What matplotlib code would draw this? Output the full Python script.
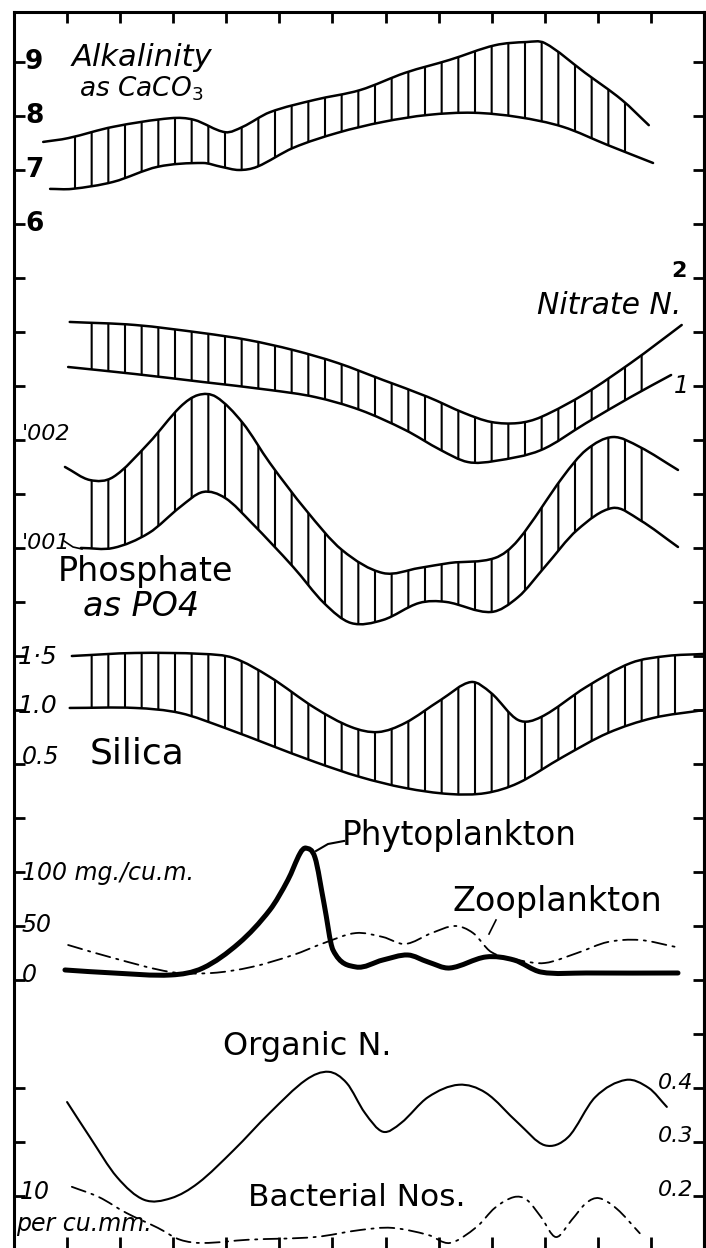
import numpy as np
import matplotlib
matplotlib.use("Agg")
import matplotlib.pyplot as plt
from matplotlib.path import Path
from matplotlib.patches import PathPatch, Rectangle

# ---------------- data ----------------
months_ticks = list(range(1, 13))

alk_top_x = [0.55, 1.02, 1.87, 2.96, 3.39, 3.98, 4.31, 4.82, 5.67, 6.52, 7.37, 8.21, 9.06, 9.66, 10.00, 10.76, 11.45, 11.96]
alk_top_y = [7.52, 7.59, 7.80, 7.96, 7.93, 7.70, 7.80, 8.07, 8.30, 8.48, 8.80, 9.04, 9.31, 9.37, 9.35, 8.80, 8.30, 7.83]
alk_bot_x = [0.68, 1.09, 1.87, 2.71, 3.56, 3.90, 4.24, 4.58, 5.26, 6.10, 6.95, 7.80, 8.65, 9.50, 10.34, 11.19, 12.04]
alk_bot_y = [6.65, 6.65, 6.78, 7.06, 7.13, 7.06, 7.00, 7.06, 7.41, 7.69, 7.89, 8.02, 8.06, 7.98, 7.80, 7.46, 7.13]

nit_top_x = [1.05, 2.28, 3.56, 4.41, 5.26, 6.10, 6.95, 7.80, 8.48, 8.99, 9.50, 9.93, 10.78, 11.62, 12.13, 12.58]
nit_top_y = [1.593, 1.565, 1.49, 1.426, 1.333, 1.213, 1.056, 0.898, 0.75, 0.667, 0.657, 0.713, 0.935, 1.213, 1.398, 1.565]
nit_bot_x = [1.02, 2.28, 3.56, 4.82, 5.67, 6.52, 7.37, 8.04, 8.55, 9.06, 9.93, 10.78, 11.62, 12.38]
nit_bot_y = [1.176, 1.111, 1.037, 0.963, 0.898, 0.778, 0.593, 0.407, 0.296, 0.306, 0.407, 0.657, 0.898, 1.102]

# phosphate in units of 0.001
pho_top_x = [0.96, 1.43, 1.87, 2.54, 3.13, 3.47, 3.81, 4.31, 4.82, 5.50, 6.18, 6.95, 7.63, 8.21, 9.06, 9.50, 10.34, 10.78, 11.28, 11.79, 12.51]
pho_top_y = [1.769, 1.648, 1.676, 1.991, 2.324, 2.435, 2.417, 2.176, 1.806, 1.37, 1.0, 0.787, 0.833, 0.88, 0.926, 1.093, 1.676, 1.926, 2.046, 1.954, 1.741]
pho_bot_x = [1.26, 1.87, 2.54, 3.13, 3.56, 3.98, 4.48, 5.26, 5.84, 6.35, 6.95, 7.63, 8.14, 8.99, 9.50, 10.00, 10.61, 11.28, 11.79, 12.51]
pho_bot_y = [1.019, 1.019, 1.157, 1.398, 1.537, 1.481, 1.25, 0.843, 0.509, 0.324, 0.352, 0.509, 0.519, 0.426, 0.565, 0.843, 1.185, 1.389, 1.278, 1.028]

sil_top_x = [1.09, 2.28, 3.56, 4.14, 4.82, 5.67, 6.35, 6.86, 7.37, 8.04, 8.61, 8.99, 9.50, 9.93, 10.78, 11.62, 12.30, 13.0]
sil_top_y = [1.5, 1.528, 1.519, 1.481, 1.306, 1.019, 0.843, 0.796, 0.880, 1.093, 1.259, 1.157, 0.907, 0.935, 1.213, 1.435, 1.5, 1.519]
sil_bot_x = [1.05, 2.28, 3.13, 3.98, 4.82, 5.67, 6.52, 7.37, 8.21, 8.89, 9.50, 10.34, 11.19, 12.04, 13.0]
sil_bot_y = [1.019, 1.019, 0.972, 0.833, 0.676, 0.519, 0.380, 0.278, 0.222, 0.231, 0.324, 0.565, 0.787, 0.926, 1.0]

phy_x = [0.96, 1.87, 2.96, 3.56, 4.24, 4.82, 5.16, 5.39, 5.50, 5.67, 5.84, 6.01, 6.44, 6.95, 7.42, 7.80, 8.21, 8.89, 9.42, 9.93, 10.78, 12.51]
phy_y = [5.8, 2.9, 1.0, 7.7, 31.7, 63.5, 92.3, 118, 123, 114, 70, 25, 8.7, 15.4, 20.2, 13.5, 7.7, 18.3, 15.4, 3.8, 2.9, 2.9]

zoo_x = [1.02, 1.87, 2.96, 3.73, 4.48, 5.26, 5.84, 6.44, 6.95, 7.37, 7.87, 8.31, 8.65, 8.99, 9.50, 10.00, 10.61, 11.19, 11.79, 12.47]
zoo_y = [29.8, 17.3, 3.8, 2.9, 8.7, 20.2, 31.7, 41.3, 37.5, 30.8, 41.3, 48.1, 41.3, 23.1, 15.4, 12.5, 22.1, 32.7, 34.6, 27.9]

orgn_x = [1.0, 1.43, 1.94, 2.45, 2.96, 3.47, 4.14, 4.82, 5.50, 5.93, 6.27, 6.61, 6.95, 7.29, 7.80, 8.38, 8.89, 9.50, 10.00, 10.44, 10.95, 11.53, 11.96, 12.30]
orgn_y = [0.374, 0.309, 0.235, 0.193, 0.196, 0.224, 0.285, 0.354, 0.415, 0.430, 0.409, 0.354, 0.319, 0.335, 0.383, 0.406, 0.391, 0.335, 0.294, 0.309, 0.383, 0.415, 0.40, 0.365]

bac_x = [1.09, 1.60, 2.11, 2.71, 3.13, 3.56, 4.41, 5.67, 6.52, 7.12, 7.80, 8.21, 8.72, 9.06, 9.42, 9.66, 9.93, 10.21, 10.51, 10.78, 11.02, 11.36, 11.79]
bac_y = [11.7, 9.8, 6.9, 4.1, 1.9, 1.3, 1.9, 2.4, 3.7, 4.1, 2.8, 1.3, 4.3, 7.8, 9.8, 9.3, 6.1, 2.4, 5.6, 8.7, 9.6, 7.6, 3.1]

# ---------------- layout ----------------
W, H, DPI = 706, 1248, 100
plt.rcParams["hatch.linewidth"] = 1.5
plt.rcParams["hatch.color"] = "black"
plt.rcParams["font.family"] = ["DejaVu Sans"]

fig = plt.figure(figsize=(W / DPI, H / DPI), dpi=DPI)
fig.patch.set_facecolor("white")

FR_L, FR_R, FR_T, FR_B = 14, 704, 12, 1248
rect = [FR_L / W, 1 - FR_B / H, (FR_R - FR_L) / W, (FR_B - FR_T) / H]
GRID0, GRIDSTEP = 62, 54
grid_rows = GRID0 + GRIDSTEP * np.arange(22)


def px2m(x):
    return (x - FR_L) / ((FR_R - FR_L) / 13.0)


frame = fig.add_axes(rect)
frame.set_xlim(0, 13)
frame.set_ylim(FR_B, FR_T)
frame.set_facecolor("none")
frame.set_xticks(months_ticks)
frame.set_yticks([r for r in grid_rows if r != 1034])
frame.tick_params(direction="in", length=8, width=2, top=True, bottom=True,
                  left=True, right=False, labelleft=False, labelbottom=False,
                  color="black")
for s in ["left", "top", "right"]:
    frame.spines[s].set_linewidth(2.2)
frame.spines["bottom"].set_visible(False)

right = frame.twinx()
right.set_ylim(FR_B, FR_T)
right.set_yticks(grid_rows)
right.tick_params(direction="in", length=8, width=2, labelright=False, color="black")
for s in ["left", "top", "bottom"]:
    right.spines[s].set_visible(False)
right.spines["right"].set_linewidth(2.2)


def panel(v1, p1, v2, p2):
    ax = fig.add_axes(rect)
    ax.set_xlim(0, 13)
    ax.axis("off")
    ax.patch.set_alpha(0)
    f1 = (FR_B - p1) / (FR_B - FR_T)
    f2 = (FR_B - p2) / (FR_B - FR_T)
    k = (v2 - v1) / (f2 - f1)
    lo = v1 - k * f1
    ax.set_ylim(lo, lo + k)
    return ax


def smooth(x, y):
    x = np.asarray(x, float)
    y = np.asarray(y, float)
    n = len(x)
    m = np.zeros(n)
    m[1:-1] = (y[2:] - y[:-2]) / (x[2:] - x[:-2])
    m[0] = (y[1] - y[0]) / (x[1] - x[0])
    m[-1] = (y[-1] - y[-2]) / (x[-1] - x[-2])
    verts = [(x[0], y[0])]
    codes = [Path.MOVETO]
    for i in range(n - 1):
        d = x[i + 1] - x[i]
        verts += [(x[i] + d / 3, y[i] + m[i] * d / 3),
                  (x[i + 1] - d / 3, y[i + 1] - m[i + 1] * d / 3),
                  (x[i + 1], y[i + 1])]
        codes += [Path.CURVE4] * 3
    return verts, codes


def curve(ax, x, y, lw=1.8, ls="-"):
    v, c = smooth(x, y)
    ax.add_patch(PathPatch(Path(v, c), fill=False, lw=lw, ls=ls,
                           edgecolor="black", capstyle="round", joinstyle="round"))


def band(ax, tx, ty, bx, by, hx0, hx1, lw=1.8):
    vt, ct = smooth(tx, ty)
    vb, cb = smooth(bx, by)
    vb_r = vb[::-1]
    verts = vt + vb_r + [vt[0]]
    codes = ct + [Path.LINETO] + [Path.CURVE4] * (len(vb_r) - 1) + [Path.CLOSEPOLY]
    hp = PathPatch(Path(verts, codes), facecolor="none", edgecolor="black",
                   lw=0, hatch="|")
    ax.add_patch(hp)
    clip = Rectangle((hx0, -1e4), hx1 - hx0, 2e4, transform=ax.transData,
                     facecolor="none", edgecolor="none")
    ax.add_patch(clip)
    hp.set_clip_path(clip)
    curve(ax, tx, ty, lw)
    curve(ax, bx, by, lw)


# Alkalinity: 9 at row 62, 6 at row 224
ax_alk = panel(9, 62, 6, 224)
band(ax_alk, alk_top_x, alk_top_y, alk_bot_x, alk_bot_y, px2m(66), px2m(638))

# Nitrate: 2 at row 278, 1 at row 386
ax_nit = panel(2, 278, 1, 386)
band(ax_nit, nit_top_x, nit_top_y, nit_bot_x, nit_bot_y, px2m(81), px2m(656))

# Phosphate: 0.002 at row 442, 0.001 at row 550
ax_pho = panel(2, 442, 1, 550)
band(ax_pho, pho_top_x, pho_top_y, pho_bot_x, pho_bot_y, px2m(81), px2m(656))

# Silica: 1.5 at row 656, 0.5 at row 764
ax_sil = panel(1.5, 656, 0.5, 764)
band(ax_sil, sil_top_x, sil_top_y, sil_bot_x, sil_bot_y, px2m(81), px2m(677))

# Plankton: 100 at row 872, 0 at row 976
ax_pl = panel(100, 872, 0, 976)
curve(ax_pl, zoo_x, zoo_y, lw=1.3, ls=(0, (8, 3.5, 1.2, 3.5)))
curve(ax_pl, phy_x, phy_y, lw=3.6)

# Organic N: 0.4 at row 1088, 0.2 at row 1196
ax_on = panel(0.4, 1088, 0.2, 1196)
curve(ax_on, orgn_x, orgn_y, lw=1.5)

# Bacteria: 10 at row 1196, 0 at row 1250
ax_bac = panel(10, 1196, 0, 1250)
curve(ax_bac, bac_x, bac_y, lw=1.3, ls=(0, (8, 3.5, 1.2, 3.5)))

# leader lines (frame axes: x in months, y in image rows)
frame.plot([px2m(316), px2m(328), px2m(344)], [851, 844, 841], color="black", lw=1.5)
frame.plot([px2m(489), px2m(496)], [934, 920], color="black", lw=1.2)
frame.plot([px2m(64), px2m(73), px2m(82)], [541, 547, 549], color="black", lw=1.2)


# ---------------- text ----------------
def T(x, y, s, size, style="normal", weight="normal", ha="left"):
    fig.text(x / W, 1 - y / H, s, fontsize=size, style=style, weight=weight,
             ha=ha, va="center", color="black")


for lab, row in [("9", 62), ("8", 116), ("7", 170), ("6", 224)]:
    T(25, row, lab, 19, weight="bold")
T(72, 58, "Alkalinity", 22, style="italic")
T(79, 89, "as CaCO$_3$", 19, style="italic")

T(671, 271, "2", 16, weight="bold")
T(537, 306, "Nitrate N.", 21.5, style="italic")
T(674, 386, "1", 17, style="italic")

T(22, 434, "'002", 16, style="italic")
T(22, 543, "'001", 16, style="italic")
T(58, 571, "Phosphate", 24)
T(83, 607, "as PO4", 24, style="italic")

T(18, 657, "1·5", 18, style="italic")
T(18, 706, "1.0", 18, style="italic")
T(22, 757, "0.5", 17, style="italic")
T(90, 753, "Silica", 26)

T(342, 836, "Phytoplankton", 23.5)
T(22, 873, "100 mg./cu.m.", 17, style="italic")
T(22, 925, "50", 17, style="italic")
T(22, 975, "0", 17, style="italic")
T(452, 902, "Zooplankton", 24)

T(223, 1047, "Organic N.", 23)
T(658, 1083, "0.4", 16, style="italic")
T(658, 1136, "0.3", 16, style="italic")
T(658, 1190, "0.2", 16, style="italic")

T(20, 1192, "10", 17, style="italic")
T(16, 1224, "per cu.mm.", 17, style="italic")
T(248, 1197, "Bacterial Nos.", 22.5)

fig.savefig("out.png", dpi=DPI, facecolor="white")
